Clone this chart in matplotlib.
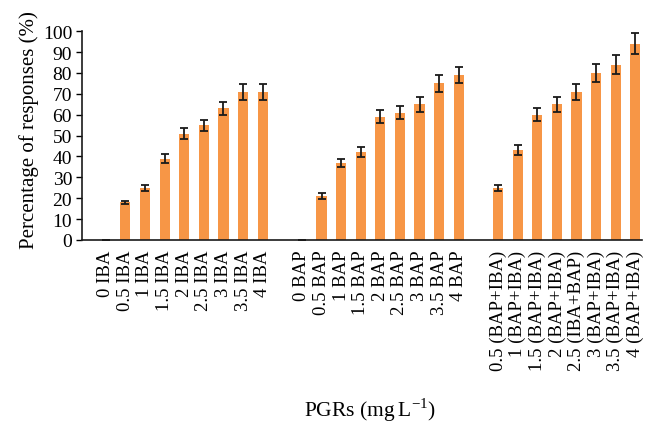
import matplotlib
matplotlib.use("Agg")
import matplotlib.pyplot as plt
import numpy as np

plt.rcParams['font.family'] = ['Liberation Serif', 'DejaVu Serif']
plt.rcParams['mathtext.fontset'] = 'custom'
plt.rcParams['mathtext.rm'] = 'Liberation Serif'

conc = ["0", "0.5", "1", "1.5", "2", "2.5", "3", "3.5", "4"]
combo_conc = ["0.5", "1", "1.5", "2", "2.5", "3", "3.5", "4"]
combo_names = ["(BAP+IBA)", "(BAP+IBA)", "(BAP+IBA)", "(BAP+IBA)",
               "(IBA+BAP)", "(BAP+IBA)", "(BAP+IBA)", "(BAP+IBA)"]

iba_vals = [0, 18, 25, 39, 51, 55, 63, 71, 71]
iba_err = [0, 0.8, 1.3, 2.2, 2.6, 2.6, 3.2, 3.8, 3.8]
bap_vals = [0, 21, 37, 42, 59, 61, 65, 75, 79]
bap_err = [0, 1.3, 2.0, 2.4, 3.2, 3.2, 3.5, 4.0, 4.0]
combo_vals = [25, 43, 60, 65, 71, 80, 84, 94]
combo_err = [1.4, 2.4, 3.2, 3.7, 3.8, 4.3, 4.5, 5.0]

labels = ([f"{c} IBA" for c in conc] + [""] +
          [f"{c} BAP" for c in conc] + [""] +
          [f"{c} {n}" for c, n in zip(combo_conc, combo_names)])
vals = iba_vals + [np.nan] + bap_vals + [np.nan] + combo_vals
errs = iba_err + [np.nan] + bap_err + [np.nan] + combo_err

x = np.arange(len(labels))
vals = np.array(vals, dtype=float)
errs = np.array(errs, dtype=float)

fig = plt.figure(figsize=(6.6, 4.35), dpi=100)
ax = fig.add_axes([0.124, 0.446, 0.849, 0.480])

mask = ~np.isnan(vals)
ax.bar(x[mask], vals[mask], width=0.52, color='#F79646', zorder=2)
ax.errorbar(x[mask], vals[mask], yerr=errs[mask], fmt='none', ecolor='#1a1a1a',
            elinewidth=1.3, capsize=3, capthick=1.3, zorder=3)

ax.set_ylim(0, 100)
ax.set_xlim(-1.22, 27.35)
ax.set_yticks(np.arange(0, 101, 10))
ax.tick_params(axis='y', labelsize=14, direction='out', length=4, width=1, pad=3)
ax.set_xticks(x)
ax.set_xticklabels(labels, rotation=90, fontsize=13.5, va='top', ha='center')
ax.tick_params(axis='x', length=0, pad=7)

for s in ['top', 'right']:
    ax.spines[s].set_visible(False)
for s in ['left', 'bottom']:
    ax.spines[s].set_linewidth(1.2)
    ax.spines[s].set_color('#1a1a1a')

ax.set_ylabel("Percentage of responses (%)", fontsize=15)
ax.yaxis.set_label_coords(-0.077, 0.53)
fig.text(0.56, 0.058, r"PGRs (mg$\,$L$^{-1}$)", fontsize=15.5, ha='center', va='center')

fig.savefig("out.png", dpi=100)
